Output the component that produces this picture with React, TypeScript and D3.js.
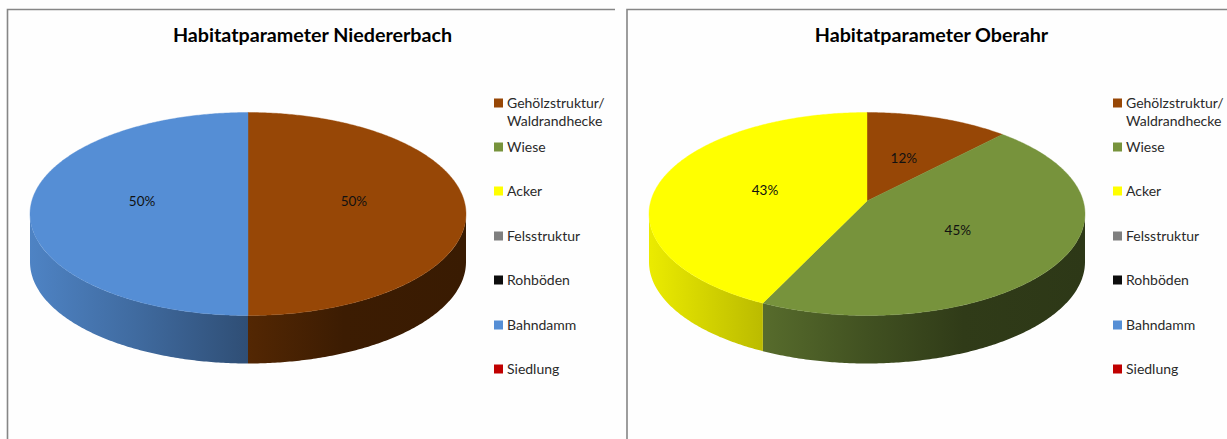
import React from "react";
import * as d3 from "d3";

const categories = ["Gehölzstruktur/\nWaldrandhecke", "Wiese", "Acker", "Felsstruktur", "Rohböden", "Bahndamm", "Siedlung"];
const colors = ["#974706", "#77933c", "#ffff00", "#7f7f7f", "#0d0d0d", "#558ed5", "#c00000"];
const valuesNiedererbach = [50, 0, 0, 0, 0, 50, 0];
const valuesOberahr = [12, 45, 43, 0, 0, 0, 0];
const legendY = [103, 147, 191, 236, 280, 325, 369];
// side-wall brightness across the pie width
const shadeStops: [number, number][] = [[0, 0.92], [0.24, 0.75], [0.5, 0.55], [0.72, 0.4], [1, 0.38]];

const RX = 216.2, RY = 101.5, DEPTH = 48, CY = 214, K = 0.128, APEX = 13;

function project(a: number, r = 1): [number, number] {
  const X = Math.sin(a) * r, Y = Math.cos(a) * r;
  const d = 1 + K * Y;
  return [(RX * X) / d, -(RY * Y + APEX) / d];
}

function range(a0: number, a1: number) {
  const n = Math.max(2, Math.ceil((a1 - a0) / 0.01));
  return d3.range(n + 1).map((i) => a0 + ((a1 - a0) * i) / n);
}

const line = d3.line<[number, number]>().curve(d3.curveLinear);

function Pie({ id, title, values, cx, titleX, legendX, frame }: any) {
  const arcs = d3.pie<number>().sort(null).value((d) => d)(values);
  const delta = Math.asin(K);
  const wallStart = Math.PI / 2 + delta, wallEnd = (3 * Math.PI) / 2 - delta;
  const total = d3.sum(values as number[]);
  return (
    <g>
      <path d={frame} fill="none" stroke="#868686" strokeWidth={1.6} />
      <text x={titleX} y={34} textAnchor="middle" dominantBaseline="central"
        style={{ font: "bold 19.7px Lato, sans-serif" }} fill="#000">{title}</text>
      <defs>
        {colors.map((c, i) => (
          <linearGradient key={i} id={`${id}-g${i}`} gradientUnits="userSpaceOnUse" x1={-218} x2={218} y1={0} y2={0}>
            {shadeStops.map(([o, s]) => {
              const col = d3.rgb(c);
              return <stop key={o} offset={o} stopColor={d3.rgb(col.r * s, col.g * s, col.b * s).formatHex()} />;
            })}
          </linearGradient>
        ))}
      </defs>
      <g transform={`translate(${cx},${CY})`}>
        {arcs.filter((a) => a.value > 0).map((a) => {
          const s = Math.max(a.startAngle, wallStart), e = Math.min(a.endAngle, wallEnd);
          if (e <= s) return null;
          const top = range(s, e).map((t) => project(t));
          const bottom = top.map(([x, y]) => [x, y + DEPTH] as [number, number]).reverse();
          return <path key={a.index} d={line([...top, ...bottom])! + "Z"} fill={`url(#${id}-g${a.index})`} />;
        })}
        {arcs.filter((a) => a.value > 0).map((a) => {
          const pts = [project(0, 0), ...range(a.startAngle, a.endAngle).map((t) => project(t))];
          return <path key={a.index} d={line(pts)! + "Z"} fill={colors[a.index]} stroke={colors[a.index]} strokeWidth={0.4} />;
        })}
        {arcs.filter((a) => a.value > 0).map((a) => {
          const [x, y] = project((a.startAngle + a.endAngle) / 2, 0.49);
          return (
            <text key={a.index} x={x} y={y} textAnchor="middle" dominantBaseline="central"
              style={{ font: "13.5px Lato, sans-serif" }} fill="#111">
              {`${Math.round((a.value / total) * 100)}%`}
            </text>
          );
        })}
      </g>
      {categories.map((c, i) => (
        <g key={c} transform={`translate(${legendX},${legendY[i]})`}>
          <rect x={0} y={-4.5} width={9} height={9} fill={colors[i]} />
          {c.split("\n").map((l, j) => (
            <text key={l} x={13} y={j * 18 - 0.5} dominantBaseline="central"
              style={{ font: "14px Lato, sans-serif" }} fill="#2a2a2a">{l}</text>
          ))}
        </g>
      ))}
    </g>
  );
}

export default function App() {
  return (
    <svg width={1227} height={439} style={{ position: "absolute", left: 0, top: 0, display: "block", background: "#fefefe" }}>
      <Pie id="a" title="Habitatparameter Niedererbach" values={valuesNiedererbach} cx={248} titleX={312.5}
        legendX={494} frame="M615,9.5H7.5V439" />
      <Pie id="b" title="Habitatparameter Oberahr" values={valuesOberahr} cx={867} titleX={931.5}
        legendX={1113} frame="M1227,9.5H627V439" />
    </svg>
  );
}
